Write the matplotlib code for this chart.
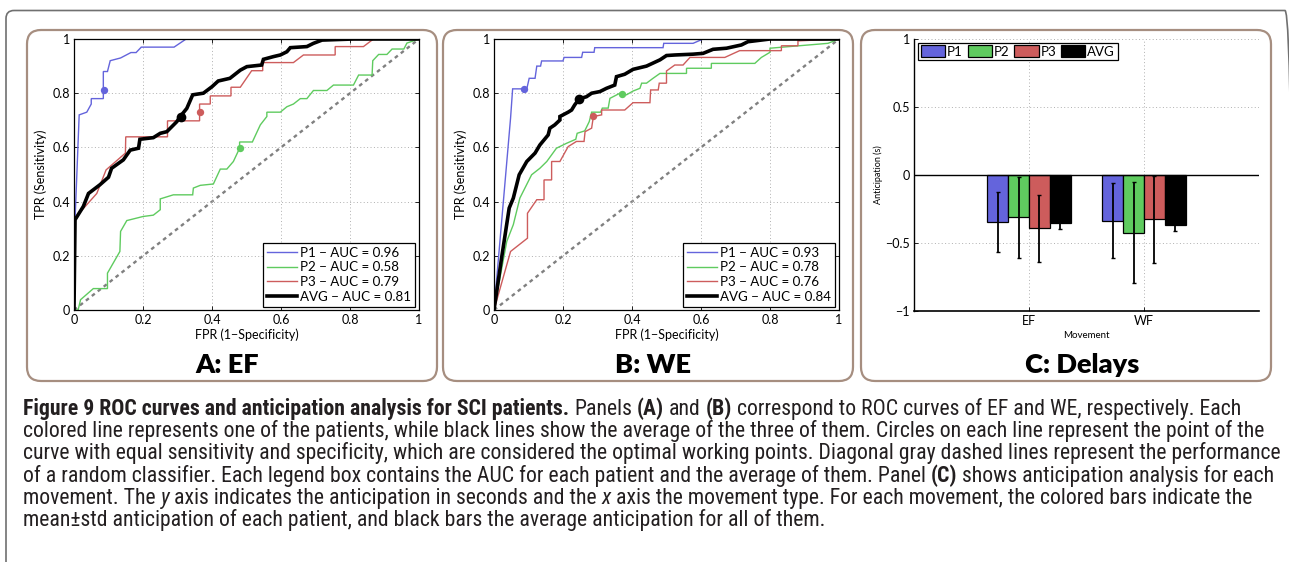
import matplotlib
matplotlib.use('Agg')
import matplotlib.pyplot as plt
from matplotlib import font_manager
from matplotlib.patches import FancyBboxPatch
from matplotlib.transforms import IdentityTransform

W, H, DPI = 1289, 562, 100


def pick(fams):
    for f in fams:
        try:
            font_manager.findfont(font_manager.FontProperties(family=f),
                                  fallback_to_default=False)
            return f
        except Exception:
            pass
    return 'DejaVu Sans'


CHART_FONT = pick(['Lato', 'Open Sans', 'DejaVu Sans'])
CAP_FONT = pick(['Roboto Condensed', 'Liberation Sans Narrow', 'Open Sans', 'DejaVu Sans'])
plt.rcParams['font.family'] = [CHART_FONT, 'DejaVu Sans']

# ---------------- data ----------------
patients = ['P1', 'P2', 'P3', 'AVG']
colors = ['#6464dc', '#5fcb5f', '#cd5c5c', '#000000']

# Panel A: EF ROC curves
ef_p1_fpr = [0, 0.003, 0.015, 0.037, 0.05, 0.05, 0.085, 0.085, 0.097, 0.105, 0.135, 0.165, 0.18, 0.195, 0.29, 0.325, 1.0]
ef_p1_tpr = [0, 0.33, 0.72, 0.73, 0.76, 0.78, 0.78, 0.88, 0.88, 0.92, 0.93, 0.95, 0.95, 0.97, 0.97, 1.0, 1.0]
ef_p2_fpr = [0, 0.012, 0.019, 0.056, 0.097, 0.097, 0.133, 0.135, 0.153, 0.2, 0.23, 0.25, 0.25, 0.288, 0.344, 0.346, 0.366,
             0.404, 0.424, 0.443, 0.462, 0.48, 0.48, 0.517, 0.54, 0.559, 0.559, 0.598, 0.617, 0.636, 0.656, 0.675, 0.694,
             0.733, 0.752, 0.81, 0.825, 0.864, 0.866, 0.883, 0.907, 0.922, 0.956, 0.965, 1.0]
ef_p2_tpr = [0, 0, 0.038, 0.079, 0.079, 0.136, 0.216, 0.29, 0.33, 0.345, 0.35, 0.37, 0.41, 0.425, 0.425, 0.45, 0.46,
             0.465, 0.52, 0.52, 0.548, 0.597, 0.62, 0.62, 0.683, 0.714, 0.73, 0.73, 0.75, 0.76, 0.78, 0.78, 0.81,
             0.81, 0.83, 0.83, 0.867, 0.867, 0.92, 0.943, 0.943, 0.963, 0.963, 0.985, 1.0]
ef_p3_fpr = [0, 0, 0.003, 0.066, 0.093, 0.149, 0.15, 0.271, 0.271, 0.364, 0.364, 0.395, 0.395, 0.455, 0.455, 0.482,
             0.515, 0.547, 0.547, 0.636, 0.665, 0.757, 0.757, 0.839, 0.868, 1.0]
ef_p3_tpr = [0, 0.33, 0.34, 0.43, 0.517, 0.579, 0.639, 0.639, 0.698, 0.698, 0.76, 0.76, 0.79, 0.79, 0.822, 0.822,
             0.883, 0.883, 0.913, 0.913, 0.941, 0.941, 0.972, 0.972, 1.0, 1.0]
ef_avg_fpr = [0, 0.003, 0.027, 0.042, 0.075, 0.1, 0.109, 0.143, 0.163, 0.187, 0.191, 0.23, 0.25, 0.269, 0.298, 0.308,
              0.327, 0.344, 0.375, 0.4, 0.418, 0.452, 0.482, 0.501, 0.544, 0.549, 0.578, 0.598, 0.617, 0.627, 0.675,
              0.694, 0.719, 0.81, 1.0]
ef_avg_tpr = [0, 0.333, 0.382, 0.43, 0.462, 0.49, 0.523, 0.554, 0.59, 0.597, 0.63, 0.636, 0.652, 0.658, 0.695, 0.714,
              0.744, 0.794, 0.8, 0.824, 0.845, 0.855, 0.885, 0.898, 0.904, 0.925, 0.935, 0.941, 0.953, 0.968, 0.972,
              0.984, 0.996, 1.0, 1.0]
ef_op_fpr = [0.087, 0.48, 0.364, 0.309]
ef_op_tpr = [0.812, 0.597, 0.729, 0.714]
ef_auc = [0.96, 0.58, 0.79, 0.81]

# Panel B: WE ROC curves
we_p1_fpr = [0, 0.048, 0.054, 0.095, 0.102, 0.119, 0.124, 0.135, 0.138, 0.2, 0.203, 0.254, 0.257, 0.29, 0.292, 0.49,
             0.492, 0.577, 0.606, 1.0]
we_p1_tpr = [0, 0.708, 0.816, 0.816, 0.855, 0.855, 0.9, 0.9, 0.919, 0.919, 0.932, 0.932, 0.951, 0.951, 0.968, 0.968,
             0.984, 0.984, 1.0, 1.0]
we_p2_fpr = [0, 0.037, 0.056, 0.075, 0.109, 0.133, 0.153, 0.181, 0.21, 0.237, 0.241, 0.263, 0.276, 0.283, 0.309, 0.314,
             0.331, 0.336, 0.365, 0.373, 0.384, 0.403, 0.423, 0.428, 0.442, 0.461, 0.481, 0.558, 0.558, 0.63, 0.63,
             0.756, 0.775, 0.8, 0.8, 0.968, 1.0]
we_p2_tpr = [0, 0.253, 0.315, 0.413, 0.499, 0.523, 0.548, 0.597, 0.615, 0.63, 0.652, 0.661, 0.695, 0.73, 0.73, 0.745,
             0.745, 0.781, 0.8, 0.8, 0.794, 0.808, 0.818, 0.837, 0.837, 0.855, 0.873, 0.873, 0.892, 0.892, 0.91,
             0.91, 0.932, 0.951, 0.966, 0.984, 1.0]
we_p3_fpr = [0, 0.048, 0.097, 0.097, 0.124, 0.145, 0.145, 0.167, 0.167, 0.191, 0.215, 0.239, 0.261, 0.264, 0.283,
             0.288, 0.312, 0.312, 0.379, 0.403, 0.452, 0.454, 0.476, 0.479, 0.5, 0.5, 0.524, 0.548, 0.568, 0.669,
             0.712, 0.833, 0.833, 0.881, 0.881, 1.0]
we_p3_tpr = [0, 0.216, 0.265, 0.357, 0.407, 0.407, 0.48, 0.48, 0.548, 0.548, 0.603, 0.622, 0.622, 0.658, 0.671,
             0.714, 0.72, 0.738, 0.738, 0.765, 0.765, 0.812, 0.812, 0.837, 0.837, 0.882, 0.904, 0.904, 0.932, 0.932,
             0.957, 0.957, 0.975, 0.975, 0.993, 1.0]
we_avg_fpr = [0, 0.022, 0.044, 0.056, 0.073, 0.095, 0.119, 0.133, 0.157, 0.162, 0.176, 0.191, 0.191, 0.215, 0.225,
              0.234, 0.247, 0.268, 0.283, 0.307, 0.326, 0.35, 0.355, 0.379, 0.403, 0.442, 0.481, 0.5, 0.524, 0.577,
              0.606, 0.635, 0.674, 0.717, 0.736, 0.8, 1.0]
we_avg_tpr = [0, 0.192, 0.376, 0.413, 0.499, 0.548, 0.579, 0.609, 0.646, 0.671, 0.683, 0.701, 0.714, 0.73, 0.738,
              0.757, 0.779, 0.787, 0.8, 0.806, 0.818, 0.83, 0.861, 0.87, 0.888, 0.9, 0.923, 0.939, 0.941, 0.944,
              0.947, 0.962, 0.966, 0.978, 0.99, 1.0, 1.0]
we_op_fpr = [0.087, 0.371, 0.286, 0.247]
we_op_tpr = [0.816, 0.797, 0.717, 0.779]
we_auc = [0.93, 0.78, 0.76, 0.84]

# Panel C: anticipation (s), mean and std
movements = ['EF', 'WF']
delay_p1_mean = [-0.347, -0.335]
delay_p2_mean = [-0.312, -0.424]
delay_p3_mean = [-0.392, -0.325]
delay_avg_mean = [-0.355, -0.365]
delay_p1_std = [0.219, 0.273]
delay_p2_std = [0.30, 0.37]
delay_p3_std = [0.246, 0.32]
delay_avg_std = [0.04, 0.05]

roc_ticks = [0, 0.2, 0.4, 0.6, 0.8, 1.0]
roc_ticklabels = ['0', '0.2', '0.4', '0.6', '0.8', '1']
c_yticks = [-1, -0.5, 0, 0.5, 1]
c_yticklabels = ['\u22121', '\u22120.5', '0', '0.5', '1']

caption_lines = [
    [("Figure 9 ROC curves and anticipation analysis for SCI patients.", 'bold', 'normal'),
     (" Panels ", 'normal', 'normal'), ("(A)", 'bold', 'normal'), (" and ", 'normal', 'normal'),
     ("(B)", 'bold', 'normal'),
     (" correspond to ROC curves of EF and WE, respectively. Each", 'normal', 'normal')],
    [("colored line represents one of the patients, while black lines show the average of the three of them. "
      "Circles on each line represent the point of the", 'normal', 'normal')],
    [("curve with equal sensitivity and specificity, which are considered the optimal working points. "
      "Diagonal gray dashed lines represent the performance", 'normal', 'normal')],
    [("of a random classifier. Each legend box contains the AUC for each patient and the average of them. Panel ",
      'normal', 'normal'), ("(C)", 'bold', 'normal'),
     (" shows anticipation analysis for each", 'normal', 'normal')],
    [("movement. The ", 'normal', 'normal'), ("y", 'normal', 'italic'),
     (" axis indicates the anticipation in seconds and the ", 'normal', 'normal'), ("x", 'normal', 'italic'),
     (" axis the movement type. For each movement, the colored bars indicate the", 'normal', 'normal')],
    [("mean\u00b1std anticipation of each patient, and black bars the average anticipation for all of them.",
      'normal', 'normal')],
]

# ---------------- figure ----------------
fig = plt.figure(figsize=(W / DPI, H / DPI), dpi=DPI)
fig.patch.set_facecolor('white')


def px_axes(x0, x1, y0, y1):
    return fig.add_axes([x0 / W, 1 - y1 / H, (x1 - x0) / W, (y1 - y0) / H])


# frames
outer = FancyBboxPatch((6, -20), 1293 - 6, (H - 10.5) + 20,
                       boxstyle='round,pad=0,rounding_size=8', transform=IdentityTransform(),
                       fill=False, ec='#707070', lw=1.2)
fig.add_artist(outer)
box_col = '#a68e80'
for bx0, bx1 in [(27, 437), (443, 853), (861, 1271)]:
    p = FancyBboxPatch((bx0, H - 381), bx1 - bx0, 351,
                       boxstyle='round,pad=0,rounding_size=14', transform=IdentityTransform(),
                       fill=False, ec=box_col, lw=1.6)
    fig.add_artist(p)

TICK_FS = 9


def roc_panel(ax, curves, op_fpr, op_tpr, aucs):
    ax.plot([0, 1], [0, 1], color='#808080', lw=1.7, ls=(0, (1.6, 1.6)), zorder=1)
    lws = [1.0, 1.0, 1.0, 2.6]
    for i, (fpr, tpr) in enumerate(curves):
        ax.plot(fpr, tpr, color=colors[i], lw=lws[i], zorder=2 + (1 if i == 3 else 0),
                label=f'{patients[i]} \u2212 AUC = {aucs[i]:.2f}', solid_joinstyle='miter')
    for i in range(4):
        ax.plot(op_fpr[i], op_tpr[i], 'o', color=colors[i], ms=7 if i == 3 else 5.3, zorder=5,
                markeredgewidth=0)
    ax.set_xlim(0, 1)
    ax.set_ylim(0, 1)
    ax.set_xticks(roc_ticks)
    ax.set_xticklabels(roc_ticklabels)
    ax.set_yticks(roc_ticks)
    ax.set_yticklabels(roc_ticklabels)
    ax.tick_params(direction='in', length=3, width=0.6, labelsize=TICK_FS, pad=3,
                   top=True, right=True)
    ax.grid(True, ls=(0, (1, 2.5)), color='#b0b0b0', lw=0.7)
    for s in ax.spines.values():
        s.set_linewidth(0.9)
    ax.set_xlabel('FPR (1\u2212Specificity)', fontsize=TICK_FS)
    ax.set_ylabel('TPR (Sensitivity)', fontsize=TICK_FS)
    ax.xaxis.set_label_coords(0.5, -0.068)
    ax.yaxis.set_label_coords(-0.078, 0.5)
    leg = ax.legend(loc='lower right', bbox_to_anchor=(0.988, 0.012), fontsize=9.6,
                    fancybox=False, edgecolor='black', framealpha=1, borderpad=0.3,
                    labelspacing=0.2, handlelength=2.3, handletextpad=0.2, borderaxespad=0)
    leg.get_frame().set_linewidth(0.9)


axA = px_axes(74, 419, 39, 310)
roc_panel(axA, [(ef_p1_fpr, ef_p1_tpr), (ef_p2_fpr, ef_p2_tpr), (ef_p3_fpr, ef_p3_tpr),
                (ef_avg_fpr, ef_avg_tpr)], ef_op_fpr, ef_op_tpr, ef_auc)
axB = px_axes(494, 839, 39, 310)
roc_panel(axB, [(we_p1_fpr, we_p1_tpr), (we_p2_fpr, we_p2_tpr), (we_p3_fpr, we_p3_tpr),
                (we_avg_fpr, we_avg_tpr)], we_op_fpr, we_op_tpr, we_auc)

# Panel C
axC = px_axes(914, 1259, 39, 311)
means = [delay_p1_mean, delay_p2_mean, delay_p3_mean, delay_avg_mean]
stds = [delay_p1_std, delay_p2_std, delay_p3_std, delay_avg_std]
bar_w = 0.182
xpos = [1, 2]
for i in range(4):
    off = (i - 1.5) * bar_w
    xs = [x + off for x in xpos]
    axC.bar(xs, means[i], width=bar_w, color=colors[i], edgecolor='black', lw=0.9,
            label=patients[i], zorder=2)
    axC.errorbar(xs, means[i], yerr=stds[i], fmt='none', ecolor='black', elinewidth=1.3,
                 capsize=1.5, capthick=1.0, zorder=4)
axC.axhline(0, color='black', lw=1.0, zorder=3)
axC.set_xlim(0, 3)
axC.set_ylim(-1, 1)
axC.set_xticks(xpos)
axC.set_xticklabels(movements)
axC.set_yticks(c_yticks)
axC.set_yticklabels(c_yticklabels)
axC.spines['top'].set_visible(False)
axC.spines['right'].set_visible(False)
axC.spines['left'].set_linewidth(1.0)
axC.spines['bottom'].set_linewidth(1.2)
axC.tick_params(direction='in', length=3, width=0.6, labelsize=TICK_FS, pad=3)
axC.grid(True, ls=(0, (1, 2.5)), color='#b0b0b0', lw=0.7, zorder=0)
axC.set_axisbelow(True)
axC.set_xlabel('Movement', fontsize=7)
axC.set_ylabel('Anticipation (s)', fontsize=6.5)
axC.xaxis.set_label_coords(0.5, -0.072)
axC.yaxis.set_label_coords(-0.09, 0.5)
legC = axC.legend(loc='upper left', bbox_to_anchor=(0.012, 0.987), ncol=4, fontsize=9.5,
                  fancybox=False, edgecolor='black', framealpha=1, borderpad=0.2,
                  handlelength=1.85, handleheight=1.05, handletextpad=0.15, columnspacing=0.35,
                  borderaxespad=0)
legC.get_frame().set_linewidth(0.9)

# panel titles
for tx, label in [(227, 'A: EF'), (653, 'B: WE'), (1082, 'C: Delays')]:
    fig.text(tx / W, 1 - 373 / H, label, ha='center', va='baseline', fontsize=19.5,
             fontweight='heavy', family=[CHART_FONT, 'DejaVu Sans'])

# caption
renderer = fig.canvas.get_renderer()


def text_w(s, size, weight='normal', style='normal'):
    t = fig.text(0, 0, s, fontsize=size, family=[CAP_FONT, 'DejaVu Sans'], fontweight=weight,
                 fontstyle=style)
    w = t.get_window_extent(renderer=renderer).width
    t.remove()
    return w


base = 10.0
full3 = caption_lines[2][0][0]
cap_fs = base * 1250.0 / text_w(full3, base)
space_w = text_w('x x', cap_fs) - text_w('xx', cap_fs)

cap_x0 = 23
baselines = [415, 437, 459, 482, 504, 526]
for line, yb in zip(caption_lines, baselines):
    x = cap_x0
    for txt, weight, style in line:
        lead = len(txt) - len(txt.lstrip(' '))
        trail = len(txt) - len(txt.rstrip(' '))
        core = txt.strip(' ')
        x += lead * space_w
        t = fig.text(x / W, 1 - yb / H, core, fontsize=cap_fs, family=[CAP_FONT, 'DejaVu Sans'],
                     fontweight=weight, fontstyle=style, ha='left', va='baseline', color='#231f20')
        x += t.get_window_extent(renderer=renderer).width
        x += trail * space_w

fig.savefig('out.png', dpi=DPI, facecolor='white')
